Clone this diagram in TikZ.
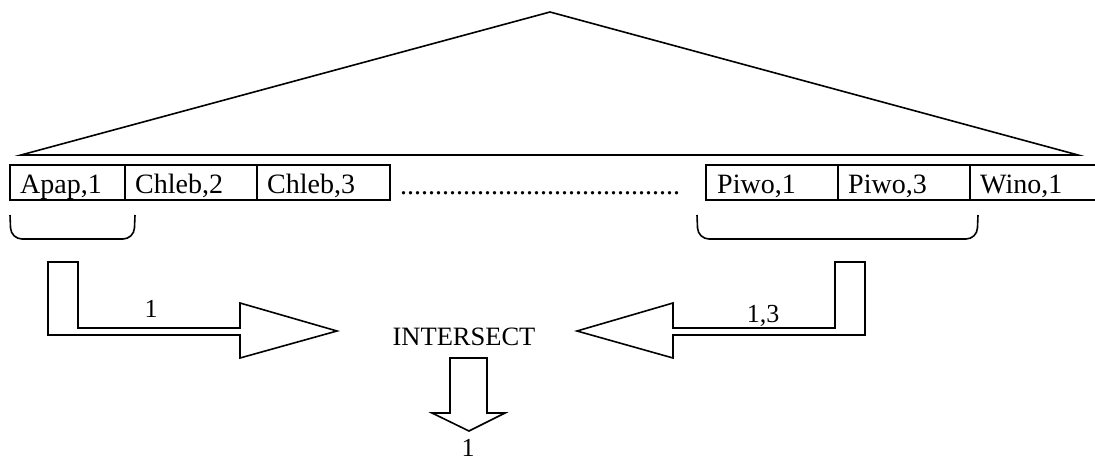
\documentclass[tikz,border=0pt]{standalone}
\usepackage{fontspec}
\setmainfont{Liberation Serif}
\begin{document}
\begin{tikzpicture}[x=1pt,y=-1pt,
  ln/.style={line width=1.6pt,line join=miter},
  cell/.style={draw,line width=1.6pt,rectangle,minimum height=35pt,inner sep=0pt,outer sep=0pt,anchor=north west},
  celltxt/.style={anchor=base west,inner sep=0pt,font=\fontsize{28}{30}\selectfont},
  lbl/.style={anchor=base,inner sep=0pt,font=\fontsize{26}{28}\selectfont}]
\useasboundingbox (0,0) rectangle (1095,461);
% triangle
\coordinate (apex) at (550,12);
\coordinate (bl) at (21,155);
\coordinate (br) at (1078,155);
\draw[ln] (bl) -- (apex) -- (br) -- cycle;
% cells
\node[cell,minimum width=115pt] (c1) at (10,165) {};
\node[cell,minimum width=132pt] (c2) at (125,165) {};
\node[cell,minimum width=133pt] (c3) at (257,165) {};
\node[cell,minimum width=132pt] (c4) at (706,165) {};
\node[cell,minimum width=132pt] (c5) at (838,165) {};
\coordinate (c6tl) at (970,165);
\coordinate (c6bl) at (970,200);
\draw[ln] (1095,165) -- (c6tl) -- (c6bl) -- (1095,200);
\node[celltxt] (t1) at (20,193) {Apap,1};
\node[celltxt] (t2) at (135,193) {Chleb,2};
\node[celltxt] (t3) at (267,193) {Chleb,3};
\node[celltxt] (t4) at (717,193) {Piwo,1};
\node[celltxt] (t5) at (848,193) {Piwo,3};
\node[celltxt] (t6) at (980,193) {Wino,1};
\node[celltxt] (dots) at (400,194) {........................................};
% brackets
\draw[ln,rounded corners=11pt] (10,215) -- (11,239) -- (134,239) -- (135,215);
\draw[ln,rounded corners=11pt] (697,215) -- (698,239) -- (977,239) -- (978,215);
% left L arrow
\coordinate (ltip) at (337,331);
\draw[ln] (48,262) -- (78,262) -- (78,328) -- (240,328) -- (240,303) -- (ltip)
  -- (240,358) -- (240,335) -- (48,335) -- cycle;
\node[lbl] (l1) at (151,317) {1};
% right L arrow
\coordinate (rtip) at (577,331);
\draw[ln] (865,262) -- (835,262) -- (835,328) -- (673,328) -- (673,303) -- (rtip)
  -- (673,358) -- (673,335) -- (865,335) -- cycle;
\node[lbl] (l2) at (763,322) {1,3};
% intersect
\node[anchor=base,inner sep=0pt,font=\fontsize{26.5}{28}\selectfont] (inter) at (464,345) {INTERSECT};
\coordinate (dtip) at (469,431);
\draw[ln] (450,358) -- (487,358) -- (487,413) -- (505,413) -- (dtip) -- (432,413) -- (450,413) -- cycle;
\node[lbl] (res) at (468,456) {1};
\end{tikzpicture}
\end{document}
